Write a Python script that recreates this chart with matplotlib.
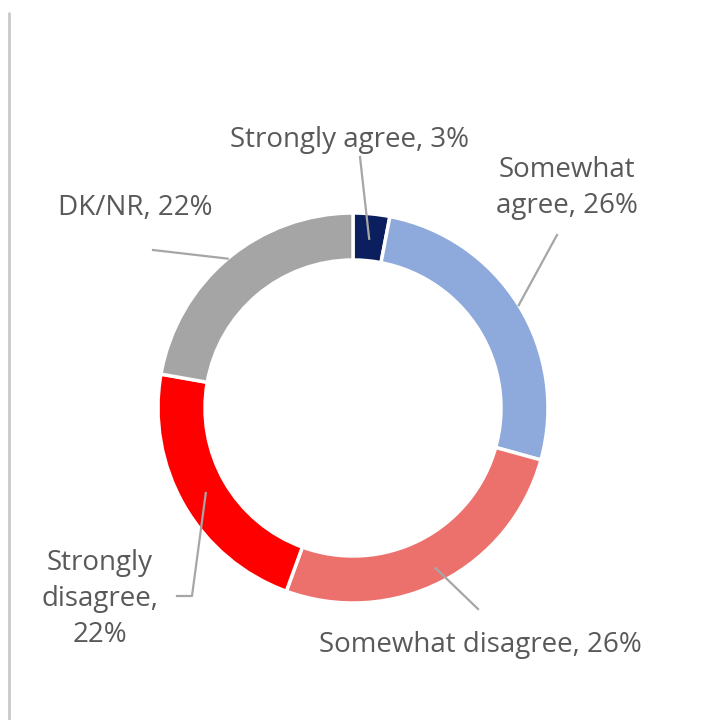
import numpy as np
import matplotlib.pyplot as plt

labels = ['Strongly agree', 'Somewhat agree', 'Somewhat disagree',
          'Strongly disagree', 'DK/NR']
shares = [3, 26, 26, 22, 22]
colors = ['#0b1f5e', '#8eaadc', '#ec716c', '#fe0000', '#a5a5a5']

W, H = 713, 720
cx, cy = 353, H - 408
r_out, ring = 195, 47

fig = plt.figure(figsize=(W / 100, H / 100), dpi=100)
ax = fig.add_axes([0, 0, 1, 1])

wedges, _ = ax.pie(shares, colors=colors, startangle=90, counterclock=False,
                   center=(cx, cy), radius=r_out, frame=True,
                   wedgeprops=dict(width=ring, edgecolor='white', linewidth=2.5))
ax.set_xlim(0, W)
ax.set_ylim(0, H)
ax.set_aspect('equal')
ax.axis('off')

# thin frame line down the left side
ax.plot([9, 9], [0, H - 12], color='#c9c9c9', lw=2, solid_capstyle='butt')

txt_kw = dict(fontsize=20, color='#595959', family='Open Sans')
line_kw = dict(color='#a6a6a6', lw=1.6)

# anchor each leader line on the wedge it belongs to
total = sum(shares)
cum = np.cumsum([0] + shares[:-1])
mid = 90 - 360 * (cum + np.array(shares) / 2) / total
anchor_r = [170, 195, 180, 170, 195]
anchors = [(cx + r * np.cos(np.radians(a)), cy + r * np.sin(np.radians(a)))
           for r, a in zip(anchor_r, mid)]


def label(i, tx, ty, text, start, elbow=None):
    ax.text(tx, H - ty, text, ha='center', va='center', linespacing=1.4,
            **txt_kw)
    ax_, ay_ = anchors[i]
    sx, sy = start
    if elbow is None:
        ax.plot([sx, ax_], [H - sy, ay_], **line_kw)
    else:
        ex, ey = elbow
        ax.plot([sx, ex, ax_], [H - sy, H - ey, ay_], **line_kw)


label(0, 350, 140, f'{labels[0]}, {shares[0]}%', start=(360, 157))
label(1, 567, 188, f'Somewhat\nagree, {shares[1]}%', start=(557, 235))
label(2, 480, 645, f'{labels[2]}, {shares[2]}%', start=(478, 609))
label(3, 100, 599, f'Strongly\ndisagree,\n{shares[3]}%', start=(177, 596),
      elbow=(192, 596))
label(4, 135, 208, f'{labels[4]}, {shares[4]}%', start=(153, 250))

fig.savefig('out.png', dpi=100, facecolor='white')
